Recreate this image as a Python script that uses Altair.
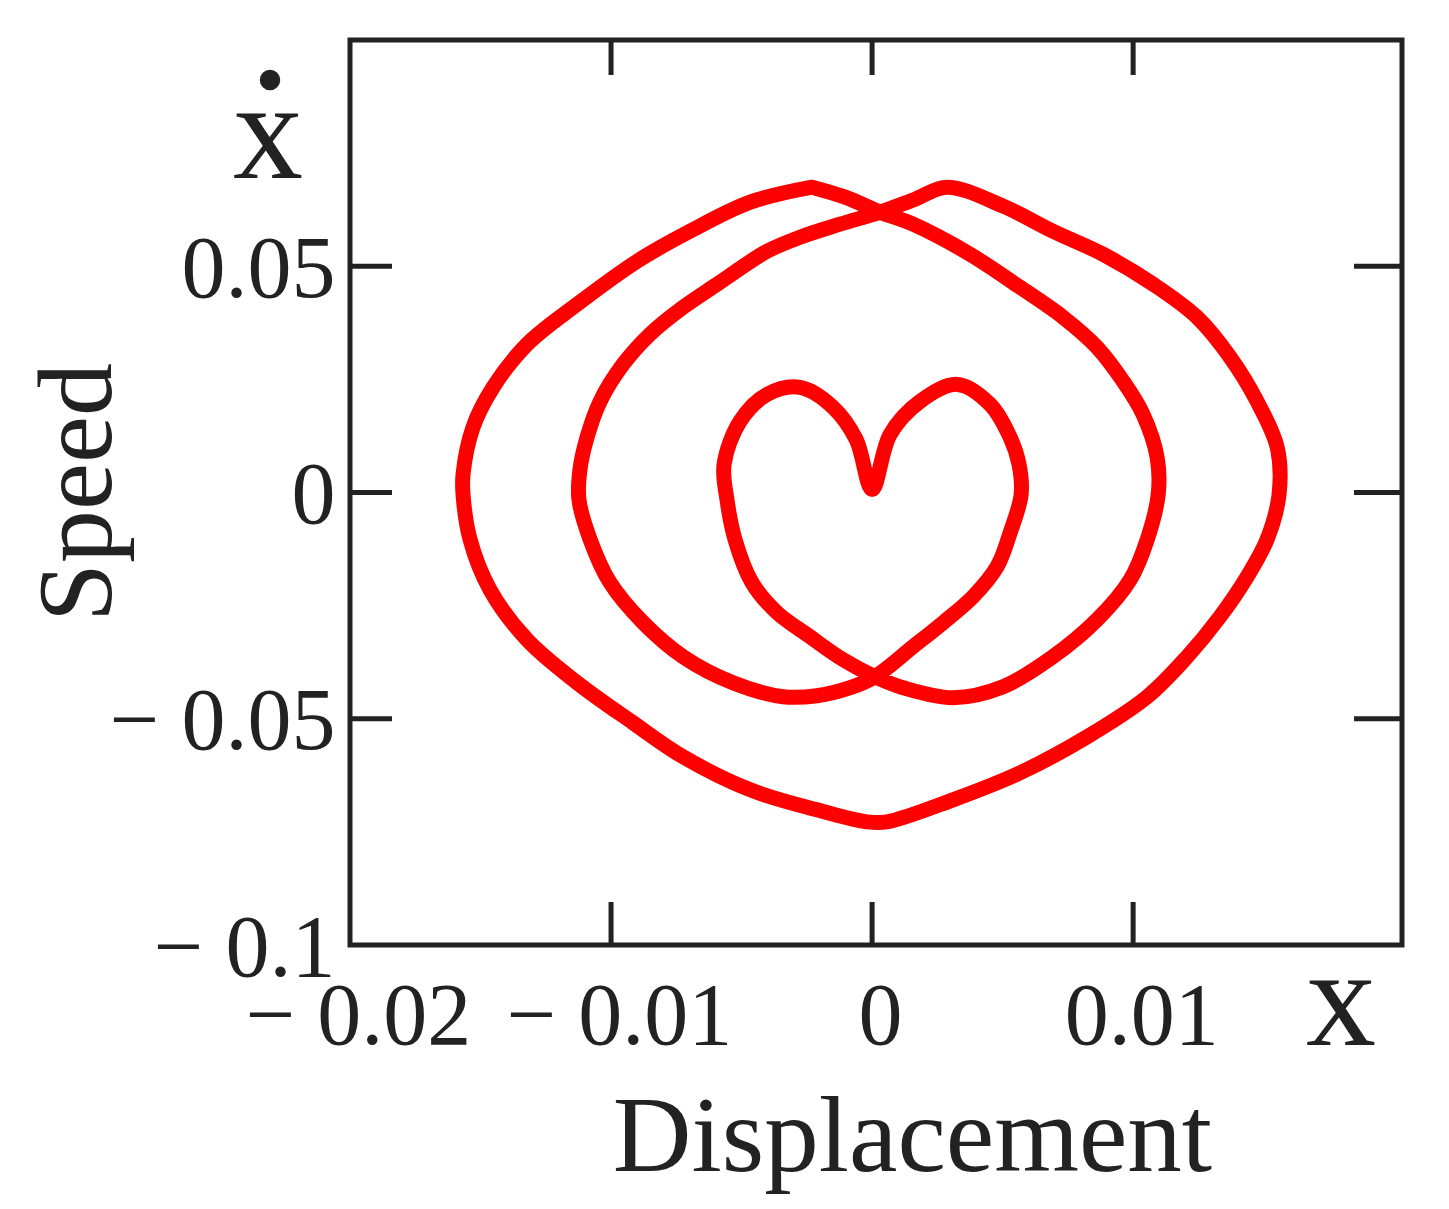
import altair as alt
import pandas as pd

# Phase-portrait trajectory (displacement, speed), in drawing order
disp = [-0.00230, -0.00467, -0.00697, -0.00900, -0.01130, -0.01322, -0.01452, -0.01529, -0.01567, -0.01567,
        -0.01540, -0.01464, -0.01322, -0.01130, -0.00916, -0.00724, -0.00467, -0.00211, -0.00019, 0.00057,
        0.00310, 0.00567, 0.00824, 0.01054, 0.01207, 0.01333, 0.01437, 0.01513, 0.01559, 0.01552,
        0.01475, 0.01372, 0.01245, 0.01077, 0.00885, 0.00693, 0.00502, 0.00287, 0.00165, 0.00031,
        -0.00123, -0.00276, -0.00402, -0.00594, -0.00724, -0.00851, -0.00954, -0.01042, -0.01092, -0.01119,
        -0.01123, -0.01080, -0.01004, -0.00877, -0.00724, -0.00533, -0.00341, -0.00211, -0.00084, 0.00011,
        0.00157, 0.00272, 0.00387, 0.00479, 0.00529, 0.00571, 0.00563, 0.00529, 0.00452, 0.00326,
        0.00184, 0.00069, 0.00000, -0.00061, -0.00149, -0.00276, -0.00402, -0.00506, -0.00567, -0.00556,
        -0.00525, -0.00460, -0.00364, -0.00238, -0.00111, 0.00011, 0.00119, 0.00310, 0.00502, 0.00693,
        0.00862, 0.00989, 0.01054, 0.01096, 0.01092, 0.01038, 0.00962, 0.00862, 0.00732, 0.00567,
        0.00375, 0.00157, 0.00031, -0.00103, -0.00230]
speed = [0.06748, 0.06416, 0.05774, 0.05111, 0.04159, 0.03274, 0.02323, 0.01438, 0.00398, -0.00044,
         -0.01040, -0.02146, -0.03252, -0.04204, -0.05088, -0.05841, -0.06571, -0.07013, -0.07279, -0.07279,
         -0.06792, -0.06195, -0.05398, -0.04513, -0.03628, -0.02743, -0.01858, -0.01040, -0.00044, 0.00996,
         0.02013, 0.02987, 0.03872, 0.04602, 0.05265, 0.05774, 0.06327, 0.06748, 0.06482, 0.06195,
         0.05929, 0.05642, 0.05332, 0.04602, 0.04093, 0.03496, 0.02832, 0.02013, 0.01217, 0.00509,
         -0.00155, -0.01040, -0.01991, -0.02876, -0.03628, -0.04204, -0.04513, -0.04491, -0.04314, -0.04071,
         -0.03407, -0.02876, -0.02301, -0.01637, -0.00885, -0.00044, 0.00619, 0.01217, 0.01947, 0.02389,
         0.02013, 0.01283, 0.00066, 0.01173, 0.01881, 0.02323, 0.02168, 0.01571, 0.00619, -0.00155,
         -0.01040, -0.01991, -0.02655, -0.03186, -0.03695, -0.04071, -0.04314, -0.04535, -0.04292, -0.03628,
         -0.02810, -0.01925, -0.01040, -0.00044, 0.00774, 0.01726, 0.02456, 0.03208, 0.03872, 0.04535,
         0.05265, 0.05929, 0.06195, 0.06527, 0.06748]

x_label_values = [-0.02, -0.01, 0, 0.01]
y_label_values = [-0.1, -0.05, 0, 0.05]
x_tick_values = [-0.01, 0, 0.01]
y_tick_values = [-0.05, 0, 0.05]

W, H = 1052, 905
FONT = "Liberation Serif"
INK = "#222222"

df = pd.DataFrame({"disp": disp, "speed": speed, "step": list(range(len(disp)))})
xscale = alt.Scale(domain=[-0.02, 0.0203], nice=False, zero=False)
yscale = alt.Scale(domain=[-0.1, 0.1], nice=False, zero=False)
label_expr = "datum.value < 0 ? '\u2212 ' + format(-datum.value, '~g') : format(datum.value, '~g')"

x_axis = alt.Axis(
    values=x_label_values, labelExpr=label_expr, ticks=False, tickSize=0, domain=False, grid=False,
    labelFont=FONT, labelFontSize=88, labelColor=INK, labelPadding=28, labelFlush=False,
    labelOverlap=False, labelOffset=8, labelLimit=0,
    title="Displacement", titleFont=FONT, titleFontSize=109, titleFontWeight="normal",
    titleColor=INK, titleX=562, titleY=225, titleBaseline="alphabetic", titleAlign="center",
    titleLimit=0)
y_axis = alt.Axis(
    values=y_label_values, labelExpr=label_expr, ticks=False, tickSize=0, domain=False, grid=False,
    labelFont=FONT, labelFontSize=88, labelColor=INK, labelPadding=15, labelFlush=False,
    labelOverlap=False, labelOffset=4, labelLimit=0,
    title="Speed", titleFont=FONT, titleFontSize=106, titleFontWeight="normal",
    titleColor=INK, titleX=-240, titleY=452, titleAngle=270, titleBaseline="alphabetic",
    titleAlign="center", titleLimit=0)

curve = alt.Chart(df).mark_line(
    color="#ff0000", strokeWidth=15, interpolate="catmull-rom", strokeCap="round", strokeJoin="round"
).encode(
    x=alt.X("disp:Q", scale=xscale, axis=x_axis),
    y=alt.Y("speed:Q", scale=yscale, axis=y_axis),
    order="step:Q",
)

xt = pd.DataFrame({"disp": x_tick_values})
yt = pd.DataFrame({"speed": y_tick_values})
rule = dict(color=INK, strokeWidth=5)
bottom_ticks = alt.Chart(xt).mark_rule(**rule).encode(
    x=alt.X("disp:Q", scale=xscale, axis=x_axis), y=alt.value(H), y2=alt.value(H - 43))
top_ticks = alt.Chart(xt).mark_rule(**rule).encode(
    x=alt.X("disp:Q", scale=xscale, axis=x_axis), y=alt.value(0), y2=alt.value(35))
left_ticks = alt.Chart(yt).mark_rule(**rule).encode(
    y=alt.Y("speed:Q", scale=yscale, axis=y_axis), x=alt.value(0), x2=alt.value(42))
right_ticks = alt.Chart(yt).mark_rule(**rule).encode(
    y=alt.Y("speed:Q", scale=yscale, axis=y_axis), x=alt.value(W), x2=alt.value(W - 48))

symbols = pd.DataFrame({"t": ["x"]})
xdot_x = alt.Chart(symbols).mark_text(
    font=FONT, fontSize=140, color=INK, baseline="alphabetic", align="center"
).encode(x=alt.value(-82), y=alt.value(138), text="t:N")
xdot_dot = alt.Chart(symbols).mark_circle(color=INK, opacity=1, size=420).encode(
    x=alt.value(-80), y=alt.value(40))
x_sym = alt.Chart(symbols).mark_text(
    font=FONT, fontSize=140, color=INK, baseline="alphabetic", align="center"
).encode(x=alt.value(991), y=alt.value(1005), text="t:N")

chart = alt.layer(
    curve, bottom_ticks, top_ticks, left_ticks, right_ticks, xdot_x, xdot_dot, x_sym
).properties(
    width=W, height=H,
    autosize=alt.AutoSizeParams(type="none"),
    padding={"left": 342, "top": 32, "right": 30, "bottom": 250},
    background="white",
).configure_view(stroke=INK, strokeWidth=5)

chart.save("out.html", embed_options={"renderer": "svg", "actions": False})
